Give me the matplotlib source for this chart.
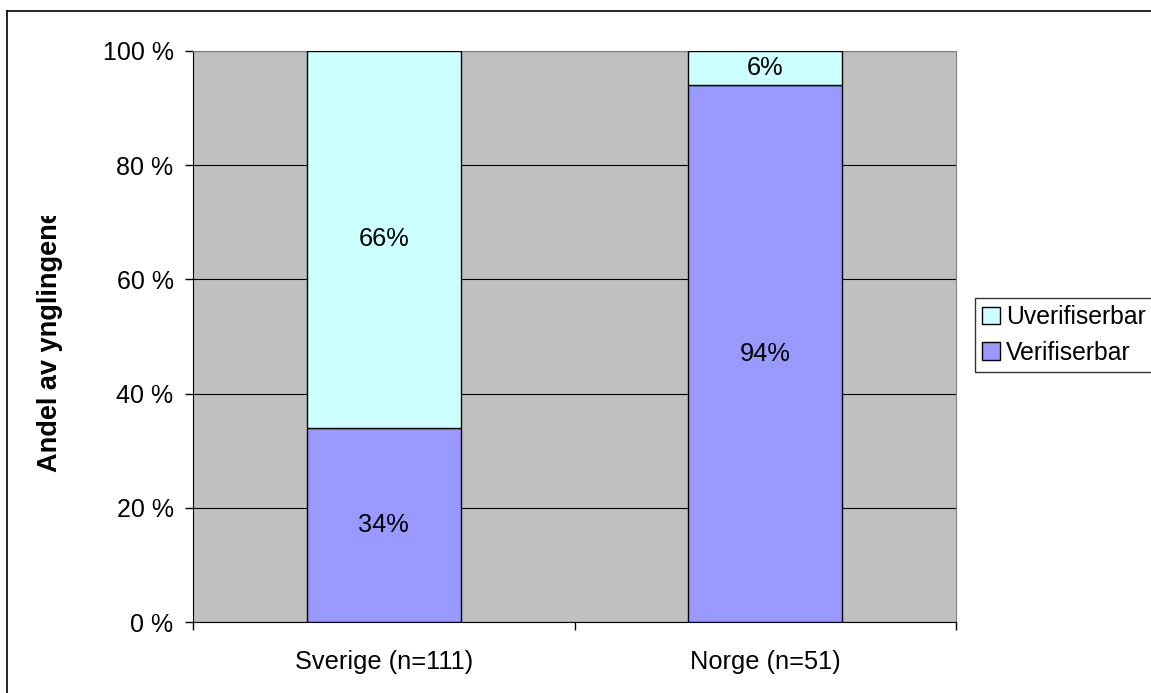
import numpy as np
import matplotlib.pyplot as plt
from matplotlib.lines import Line2D
from matplotlib.patches import Patch, Rectangle

plt.rcParams['font.family'] = ['Liberation Sans', 'DejaVu Sans']

categories = ['Sverige (n=111)', 'Norge (n=51)']
verifiserbar = [34, 94]
uverifiserbar = [66, 6]
yticks = [0, 20, 40, 60, 80, 100]

c_ver = '#9999FF'
c_uver = '#CCFFFF'
fs = 18.3

fig = plt.figure(figsize=(11.51, 6.93), dpi=100)
ax = fig.add_axes([193/1151, 1-622/693, (956-193)/1151, (622-51)/693])
ax.set_facecolor('#C0C0C0')

x = np.arange(len(categories))
w = 0.404
ax.bar(x, verifiserbar, w, color=c_ver, edgecolor='black', linewidth=1, zorder=3)
ax.bar(x, uverifiserbar, w, bottom=verifiserbar, color=c_uver, edgecolor='black', linewidth=1, zorder=3)

for i in range(len(categories)):
    ax.text(x[i], verifiserbar[i] / 2, '%d%%' % verifiserbar[i], ha='center', va='center', fontsize=fs, zorder=4)
    ax.text(x[i], verifiserbar[i] + uverifiserbar[i] / 2, '%d%%' % uverifiserbar[i], ha='center', va='center', fontsize=fs, zorder=4)

ax.set_xlim(-0.5, 1.5)
ax.set_ylim(0, 100)
ax.set_yticks(yticks)
ax.set_yticklabels(['%d %%' % v for v in yticks], fontsize=18)
ax.yaxis.grid(True, color='black', linewidth=0.8, zorder=1)
ax.set_axisbelow(True)

# category labels centered, ticks between categories
ax.set_xticks([-0.5, 0.5, 1.5])
ax.set_xticklabels([])
ax.set_xticks(x, minor=True)
ax.set_xticklabels(categories, minor=True, fontsize=fs)
ax.tick_params(axis='x', which='minor', length=0, pad=20)
ax.tick_params(axis='x', which='major', length=6, width=1, direction='out')
ax.tick_params(axis='y', length=6, width=1, direction='out', pad=8)

for s in ['top', 'right']:
    ax.spines[s].set_color('#808080')
for s in ['left', 'bottom']:
    ax.spines[s].set_color('black')

ax.set_ylabel('Andel av ynglingene', fontsize=19.5, fontweight='bold')
ax.yaxis.set_label_coords(-(193-63)/763, (622-340)/571)

# the label is cut off at the top in the original chart
fig.add_artist(Rectangle((15/1151, 1-216/693), 70/1151, (216-14)/693, facecolor='white',
                         edgecolor='none', transform=fig.transFigure, zorder=10))

handles = [Patch(facecolor=c_uver, edgecolor='black', label='Uverifiserbar'),
           Patch(facecolor=c_ver, edgecolor='black', label='Verifiserbar')]
leg = fig.legend(handles=handles, loc='upper left', bbox_to_anchor=(975/1151, 1-298/693),
                 fontsize=17.8, frameon=True, fancybox=False, edgecolor='black',
                 handlelength=0.7, handleheight=0.7, handletextpad=0.25, borderpad=0.3,
                 labelspacing=0.45, borderaxespad=0)
leg.get_frame().set_linewidth(1)

# outer chart border (top and left visible)
fig.add_artist(Line2D([7/1151, 1], [1-11/693, 1-11/693], color='black', linewidth=1.2, transform=fig.transFigure))
fig.add_artist(Line2D([7/1151, 7/1151], [0, 1-11/693], color='black', linewidth=1.2, transform=fig.transFigure))

fig.savefig('out.png', dpi=100)
